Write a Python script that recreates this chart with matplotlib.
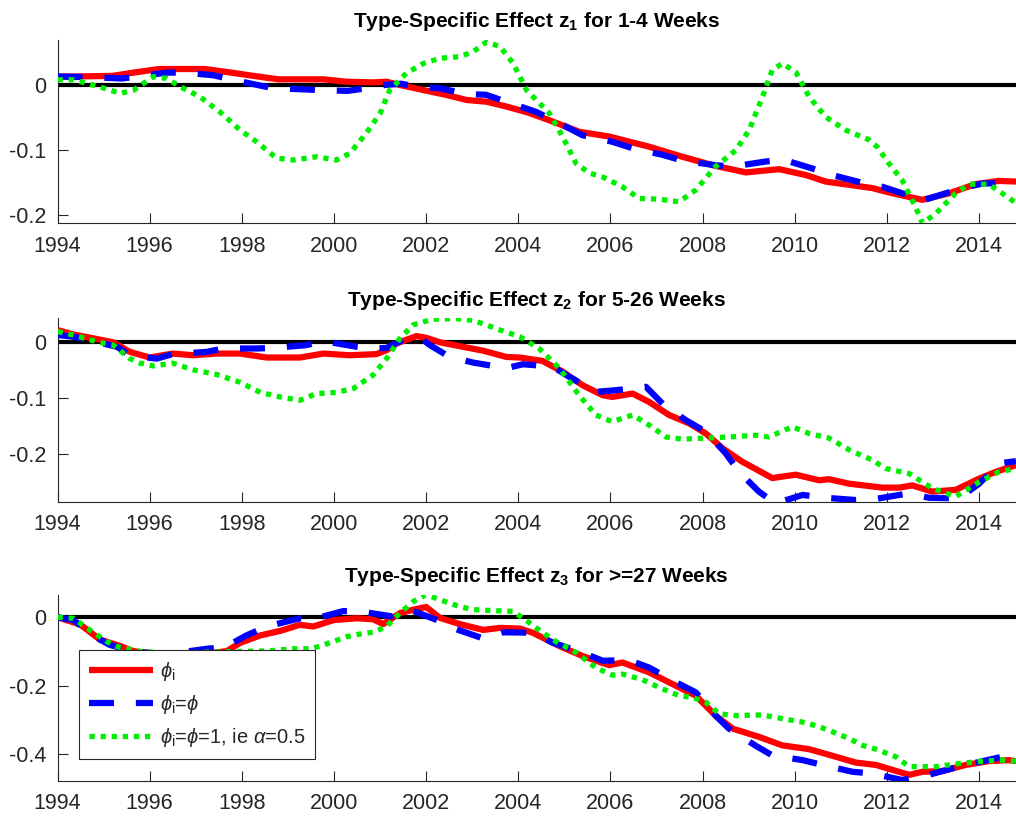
import matplotlib
matplotlib.use("Agg")
import matplotlib.pyplot as plt

plt.rcParams['font.family'] = ['Liberation Sans', 'DejaVu Sans']
plt.rcParams['mathtext.fontset'] = 'custom'
plt.rcParams['mathtext.rm'] = 'Liberation Sans'
plt.rcParams['mathtext.it'] = 'Liberation Sans:italic'
plt.rcParams['mathtext.bf'] = 'Liberation Sans:bold'
plt.rcParams['mathtext.default'] = 'regular'
plt.rcParams['axes.unicode_minus'] = False

# ---------------- data ----------------
titles = [r'Type-Specific Effect z$_1$ for 1-4 Weeks',
          r'Type-Specific Effect z$_2$ for 5-26 Weeks',
          r'Type-Specific Effect z$_3$ for >=27 Weeks']
legend_labels = [r'$\mathit{\phi}_{\rm i}$', r'$\mathit{\phi}_{\rm i}$=$\mathit{\phi}$',
                 r'$\mathit{\phi}_{\rm i}$=$\mathit{\phi}$=1, ie $\mathit{\alpha}$=0.5']
xticks = [1994, 1996, 1998, 2000, 2002, 2004, 2006, 2008, 2010, 2012, 2014]

# Panel 1 (1-4 weeks)
p1_red_x = [1994.0, 1994.35, 1995.2, 1995.65, 1996.2, 1997.2, 1997.67, 1998.25, 1998.8, 1999.77, 2000.27,
            2000.85, 2001.14, 2001.43, 2001.94, 2002.44, 2002.88, 2003.31, 2003.74, 2004.2, 2004.67, 2005.32,
            2005.97, 2006.84, 2007.56, 2008.28, 2008.94, 2009.66, 2010.24, 2010.67, 2011.68, 2012.12, 2012.77,
            2013.35, 2013.92, 2014.43, 2014.8]
p1_red_y = [0.013, 0.013, 0.014, 0.019, 0.0245, 0.0245, 0.020, 0.014, 0.0087, 0.0087, 0.005,
            0.004, 0.005, 0.0, -0.0077, -0.0153, -0.023, -0.0256, -0.033, -0.042, -0.054, -0.0716,
            -0.079, -0.0946, -0.110, -0.124, -0.134, -0.129, -0.138, -0.148, -0.158, -0.166, -0.176,
            -0.166, -0.152, -0.147, -0.148]
p1_blue_x = [1994.0, 1994.7, 1995.4, 1996.37, 1996.73, 1997.38, 1997.8, 1998.68, 1999.1, 1999.77, 2000.3,
             2000.7, 2001.1, 2001.45, 2001.8, 2002.3, 2002.87, 2003.3, 2003.96, 2004.38, 2004.96, 2005.39,
             2006.04, 2006.48, 2007.13, 2007.56, 2008.28, 2008.65, 2009.3, 2009.73, 2010.38, 2010.81, 2011.47,
             2011.9, 2012.55, 2012.77, 2013.64, 2014.07, 2014.8]
p1_blue_y = [0.013, 0.012, 0.010, 0.019, 0.019, 0.015, 0.008, -0.005, -0.006, -0.008, -0.009,
             -0.005, 0.0, 0.002, -0.0026, -0.005, -0.0138, -0.015, -0.031, -0.041, -0.061, -0.077,
             -0.087, -0.097, -0.107, -0.116, -0.123, -0.125, -0.118, -0.114, -0.128, -0.138, -0.150,
             -0.156, -0.171, -0.177, -0.158, -0.151, -0.150]
p1_green_x = [1994.0, 1994.34, 1994.9, 1995.36, 1995.65, 1996.08, 1996.37, 1996.66, 1997.09, 1997.52, 1997.96,
              1998.32, 1998.75, 1999.12, 1999.62, 2000.05, 2000.34, 2000.7, 2001.0, 2001.21, 2001.57, 2001.94,
              2002.3, 2002.73, 2003.02, 2003.31, 2003.6, 2003.89, 2004.18, 2004.67, 2004.96, 2005.25, 2005.54,
              2005.83, 2006.26, 2006.62, 2007.06, 2007.49, 2007.85, 2008.28, 2008.72, 2009.01, 2009.3, 2009.51,
              2009.73, 2010.02, 2010.31, 2010.67, 2011.1, 2011.61, 2011.79, 2012.04, 2012.33, 2012.62, 2012.77,
              2013.06, 2013.49, 2013.78, 2014.21, 2014.5, 2014.8]
p1_green_y = [0.008, 0.008, -0.0026, -0.0128, -0.008, 0.0128, 0.010, -0.0026, -0.018, -0.041, -0.069,
              -0.087, -0.112, -0.115, -0.110, -0.115, -0.105, -0.074, -0.0435, -0.0077, 0.018, 0.033,
              0.041, 0.0435, 0.051, 0.066, 0.059, 0.033, -0.008, -0.043, -0.079, -0.120, -0.135,
              -0.141, -0.156, -0.174, -0.175, -0.179, -0.161, -0.125, -0.100, -0.069, -0.018, 0.023,
              0.033, 0.020, -0.018, -0.049, -0.069, -0.084, -0.095, -0.120, -0.146, -0.187, -0.212,
              -0.197, -0.166, -0.152, -0.152, -0.166, -0.181]

# Panel 2 (5-26 weeks)
p2_red_x = [1994.0, 1994.34, 1994.78, 1995.21, 1995.57, 1996.0, 1996.5, 1996.95, 1997.45, 1997.96, 1998.54,
            1999.26, 1999.77, 2000.34, 2000.92, 2001.14, 2001.36, 2001.79, 2002.0, 2002.3, 2002.8, 2003.24,
            2003.74, 2004.03, 2004.52, 2004.96, 2005.39, 2005.83, 2006.04, 2006.48, 2006.84, 2007.27, 2007.71,
            2008.07, 2008.43, 2008.86, 2009.51, 2010.02, 2010.53, 2010.74, 2011.18, 2011.9, 2012.26, 2012.55,
            2012.98, 2013.49, 2014.0, 2014.36, 2014.8]
p2_red_y = [0.0207, 0.013, 0.006, -0.001, -0.018, -0.028, -0.021, -0.024, -0.021, -0.021, -0.028,
            -0.028, -0.021, -0.024, -0.022, -0.015, -0.003, 0.010, 0.007, -0.001, -0.009, -0.016,
            -0.027, -0.028, -0.034, -0.053, -0.077, -0.095, -0.098, -0.092, -0.107, -0.130, -0.145,
            -0.163, -0.189, -0.213, -0.242, -0.236, -0.246, -0.244, -0.252, -0.259, -0.259, -0.255,
            -0.266, -0.263, -0.243, -0.231, -0.219]
p2_blue_x = [1994.0, 1994.34, 1994.78, 1995.29, 1995.57, 1996.15, 1996.5, 1997.24, 1997.6, 1998.32, 1998.68,
             1999.4, 1999.77, 2000.5, 2000.92, 2001.14, 2001.57, 2001.94, 2002.08, 2002.51, 2003.02, 2003.74,
             2004.1, 2004.74, 2005.1, 2005.68, 2006.12, 2006.77, 2007.13, 2007.63, 2008.07, 2008.5, 2008.79,
             2009.22, 2009.58, 2010.17, 2010.67, 2011.32, 2011.76, 2012.48, 2012.91, 2013.56, 2014.0, 2014.43,
             2014.8]
p2_blue_y = [0.012, 0.009, 0.001, -0.009, -0.024, -0.030, -0.022, -0.018, -0.012, -0.012, -0.011,
             -0.006, 0.001, -0.009, -0.012, -0.011, 0.006, 0.003, -0.006, -0.027, -0.037, -0.047,
             -0.040, -0.044, -0.062, -0.089, -0.086, -0.080, -0.110, -0.139, -0.160, -0.198, -0.231,
             -0.266, -0.287, -0.272, -0.277, -0.281, -0.279, -0.269, -0.277, -0.278, -0.252, -0.216,
             -0.212]
p2_green_x = [1994.0, 1994.34, 1994.85, 1995.21, 1995.57, 1995.79, 1996.08, 1996.5, 1996.95, 1997.45, 1997.96,
              1998.4, 1998.83, 1999.26, 1999.62, 2000.05, 2000.42, 2000.85, 2001.14, 2001.43, 2001.72, 2002.15,
              2002.66, 2003.02, 2003.6, 2004.03, 2004.45, 2004.89, 2005.32, 2005.68, 2006.04, 2006.48, 2006.84,
              2007.2, 2007.56, 2008.07, 2008.58, 2009.15, 2009.44, 2009.95, 2010.31, 2010.74, 2011.18, 2011.68,
              2011.97, 2012.48, 2012.98, 2013.49, 2014.0, 2014.43, 2014.8]
p2_green_y = [0.018, 0.012, 0.0, -0.006, -0.030, -0.038, -0.043, -0.038, -0.050, -0.058, -0.072,
              -0.090, -0.098, -0.104, -0.092, -0.090, -0.083, -0.059, -0.030, 0.006, 0.030, 0.040,
              0.041, 0.038, 0.021, 0.009, -0.012, -0.047, -0.095, -0.130, -0.142, -0.130, -0.148,
              -0.169, -0.173, -0.171, -0.169, -0.166, -0.169, -0.151, -0.163, -0.171, -0.192, -0.210,
              -0.225, -0.234, -0.260, -0.275, -0.249, -0.231, -0.225]

# Panel 3 (>=27 weeks)
p3_red_x = [1994.0, 1994.49, 1994.92, 1995.36, 1995.65, 1996.2, 1996.8, 1997.3, 1997.67, 1997.96, 1998.4,
            1998.83, 1999.26, 1999.55, 2000.0, 2000.5, 2000.85, 2001.07, 2001.43, 2001.72, 2002.0, 2002.3,
            2002.73, 2003.24, 2003.6, 2004.03, 2004.31, 2004.89, 2005.39, 2005.97, 2006.26, 2006.84, 2007.42,
            2007.85, 2008.28, 2008.65, 2009.22, 2009.73, 2010.31, 2010.81, 2011.32, 2011.76, 2012.48, 2012.77,
            2013.2, 2013.71, 2014.21, 2014.65, 2014.8]
p3_red_y = [0.0, -0.021, -0.065, -0.084, -0.099, -0.108, -0.110, -0.105, -0.099, -0.075, -0.053,
            -0.040, -0.022, -0.027, -0.008, -0.003, -0.006, -0.020, 0.012, 0.022, 0.030, -0.002,
            -0.020, -0.037, -0.031, -0.033, -0.045, -0.084, -0.113, -0.140, -0.132, -0.161, -0.200,
            -0.229, -0.287, -0.325, -0.349, -0.374, -0.385, -0.404, -0.424, -0.431, -0.460, -0.451,
            -0.449, -0.431, -0.420, -0.417, -0.420]
p3_blue_x = [1994.0, 1994.34, 1994.92, 1995.14, 1995.7, 1996.3, 1996.8, 1997.3, 1997.6, 1998.1, 1998.54,
             1999.26, 1999.48, 2000.2, 2000.56, 2001.29, 2001.65, 2002.23, 2002.59, 2003.24, 2003.67, 2004.31,
             2004.74, 2005.39, 2005.83, 2006.4, 2006.84, 2007.42, 2007.85, 2008.28, 2008.57, 2009.15, 2009.51,
             2010.17, 2010.6, 2011.25, 2011.68, 2012.33, 2012.77, 2013.42, 2013.85, 2014.5, 2014.8]
p3_blue_y = [0.0, -0.008, -0.065, -0.081, -0.100, -0.108, -0.100, -0.091, -0.090, -0.053, -0.027,
             -0.003, -0.008, 0.018, 0.017, 0.002, 0.022, -0.008, -0.032, -0.062, -0.044, -0.045,
             -0.074, -0.103, -0.127, -0.125, -0.147, -0.190, -0.219, -0.287, -0.325, -0.375, -0.403,
             -0.417, -0.431, -0.451, -0.456, -0.475, -0.465, -0.441, -0.427, -0.407, -0.412]
p3_green_x = [1994.0, 1994.34, 1994.7, 1995.07, 1995.3, 1995.8, 1996.5, 1997.2, 1997.9, 1998.6, 1999.1,
              1999.5, 1999.77, 2000.27, 2000.63, 2000.85, 2001.14, 2001.43, 2001.72, 2002.0, 2002.3, 2002.73,
              2003.02, 2003.53, 2003.89, 2004.24, 2004.53, 2004.81, 2005.25, 2005.68, 2006.04, 2006.26, 2006.69,
              2007.06, 2007.49, 2007.78, 2008.07, 2008.36, 2008.72, 2009.3, 2009.73, 2010.17, 2010.45, 2010.74,
              2011.18, 2011.47, 2011.76, 2012.19, 2012.48, 2012.77, 2013.06, 2013.56, 2014.07, 2014.5, 2014.8]
p3_green_y = [0.0, -0.003, -0.037, -0.071, -0.086, -0.100, -0.105, -0.102, -0.100, -0.098, -0.092,
              -0.092, -0.081, -0.057, -0.047, -0.044, -0.027, 0.012, 0.046, 0.066, 0.051, 0.031,
              0.022, 0.019, 0.017, -0.016, -0.045, -0.070, -0.103, -0.147, -0.169, -0.166, -0.182,
              -0.205, -0.229, -0.234, -0.248, -0.282, -0.287, -0.285, -0.296, -0.306, -0.316, -0.330,
              -0.354, -0.374, -0.385, -0.407, -0.436, -0.436, -0.436, -0.427, -0.420, -0.417, -0.420]

panels = [
    dict(series=[(p1_red_x, p1_red_y), (p1_blue_x, p1_blue_y), (p1_green_x, p1_green_y)],
         ylim=(-0.212, 0.069), yticks=[-0.2, -0.1, 0], yticklabels=['-0.2', '-0.1', '0']),
    dict(series=[(p2_red_x, p2_red_y), (p2_blue_x, p2_blue_y), (p2_green_x, p2_green_y)],
         ylim=(-0.284, 0.0416), yticks=[-0.2, -0.1, 0], yticklabels=['-0.2', '-0.1', '0']),
    dict(series=[(p3_red_x, p3_red_y), (p3_blue_x, p3_blue_y), (p3_green_x, p3_green_y)],
         ylim=(-0.477, 0.065), yticks=[-0.4, -0.2, 0], yticklabels=['-0.4', '-0.2', '0']),
]

# ---------------- styling ----------------
axcol = '#262626'
styles = [dict(color='#ff0000', lw=4.5, ls='-', zorder=3),
          dict(color='#0000ff', lw=4.5, dashes=(4.0, 3.5), zorder=4),
          dict(color='#00ee00', lw=3.8, dashes=(1.0, 1.1), zorder=5)]

fig = plt.figure(figsize=(10.16, 8.21), dpi=100)
positions = [(0.0566, 0.7280, 0.9434, 0.2233),
             (0.0566, 0.3889, 0.9434, 0.2234),
             (0.0566, 0.0491, 0.9434, 0.2262)]

for i, (pan, pos) in enumerate(zip(panels, positions)):
    ax = fig.add_axes(pos)
    ax.axhline(0, color='black', lw=3.0, zorder=2)
    handles = []
    for (xs, ys), st in zip(pan['series'], styles):
        kw = dict(st)
        h, = ax.plot(xs, ys, solid_capstyle='butt', dash_capstyle='butt', **kw)
        handles.append(h)
    ax.set_xlim(1994, 2014.8)
    ax.set_ylim(*pan['ylim'])
    ax.set_xticks(xticks)
    ax.set_xticklabels([str(t) for t in xticks])
    ax.set_yticks(pan['yticks'])
    ax.set_yticklabels(pan['yticklabels'])
    for s in ['top', 'right']:
        ax.spines[s].set_visible(False)
    for s in ['left', 'bottom']:
        ax.spines[s].set_color(axcol)
        ax.spines[s].set_linewidth(0.8)
    ax.tick_params(direction='in', length=7, width=0.8, color=axcol, labelcolor=axcol,
                   labelsize=15.5)
    ax.tick_params(axis='x', pad=9)
    ax.tick_params(axis='y', pad=8)
    ax.set_title(titles[i], fontsize=15, fontweight='bold', color='black', pad=9)
    if i == 2:
        leg = ax.legend(handles, legend_labels, loc='lower left', bbox_to_anchor=(0.0224, 0.117),
                        borderaxespad=0, fontsize=14.5, handlelength=3.2, handletextpad=0.3,
                        labelspacing=0.5, borderpad=0.5, fancybox=False, framealpha=1,
                        edgecolor=axcol)
        leg.get_frame().set_linewidth(0.8)
        for t in leg.get_texts():
            t.set_color(axcol)
        leg.set_zorder(10)

fig.savefig('out.png', dpi=100)
